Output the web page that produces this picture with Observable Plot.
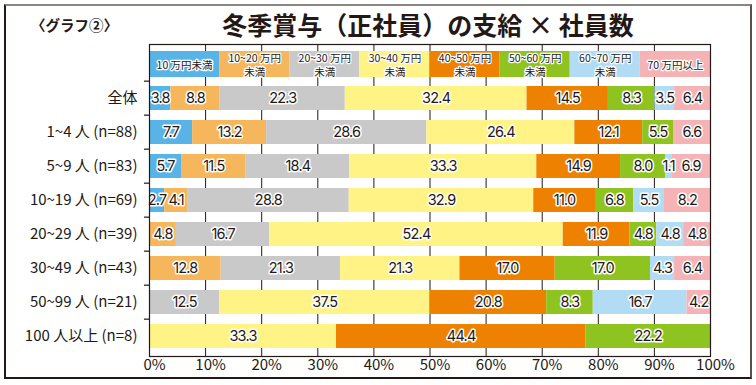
<!DOCTYPE html>
<html>
<head>
<meta charset="utf-8">
<script src="https://cdn.jsdelivr.net/npm/d3@7"></script>
<script src="https://cdn.jsdelivr.net/npm/@observablehq/plot@0.6"></script>
<style>
  body { margin: 0; background: #fff; }
  #wrap { position: relative; width: 756px; height: 385px; overflow: hidden; font-family: "Noto Sans CJK JP", "Noto Sans", sans-serif; }
  #frame { position: absolute; left: 4px; top: 4px; width: 744px; height: 371px;
    border-top: 2px solid #8c8682; border-left: 2px solid #231815; border-right: 2px solid #5a514f; border-bottom: 2px solid #231815; }
  #tag { position: absolute; left: 31px; top: 15px; font-size: 14.5px; font-weight: bold; color: #231815; line-height: 20px; }
  #title { position: absolute; left: 0; width: 856px; text-align: center; top: 8px; font-size: 25px; font-weight: bold; color: #231815; line-height: 32px; }
  #chart { position: absolute; left: 0; top: 0; }
</style>
</head>
<body>
<div id="wrap">
  <div id="frame"></div>
  <div id="tag">〈グラフ②〉</div>
  <div id="title">冬季賞与（正社員）の支給 × 社員数</div>
  <div id="chart"></div>
</div>
<script>
const groups = ["全体", "1~4 人 (n=88)", "5~9 人 (n=83)", "10~19 人 (n=69)", "20~29 人 (n=39)", "30~49 人 (n=43)", "50~99 人 (n=21)", "100 人以上 (n=8)"];
const brackets = ["10万円未満", "10~20万円未満", "20~30万円未満", "30~40万円未満", "40~50万円未満", "50~60万円未満", "60~70万円未満", "70万円以上"];
const legendLabels = ["10 万円未満", "10~20 万円\n未満", "20~30 万円\n未満", "30~40 万円\n未満", "40~50 万円\n未満", "50~60 万円\n未満", "60~70 万円\n未満", "70 万円以上"];
const colors = ["#58b4e6", "#f6b65c", "#c9c9ca", "#fff385", "#ee8100", "#8fc31f", "#b2dcf4", "#f5b3b6"];

const vAll   = [3.8, 8.8, 22.3, 32.4, 14.5, 8.3, 3.5, 6.4];
const v1_4   = [7.7, 13.2, 28.6, 26.4, 12.1, 5.5, 0, 6.6];
const v5_9   = [5.7, 11.5, 18.4, 33.3, 14.9, 8.0, 1.1, 6.9];
const v10_19 = [2.7, 4.1, 28.8, 32.9, 11.0, 6.8, 5.5, 8.2];
const v20_29 = [0, 4.8, 16.7, 52.4, 11.9, 4.8, 4.8, 4.8];
const v30_49 = [0, 12.8, 21.3, 21.3, 17.0, 17.0, 4.3, 6.4];
const v50_99 = [0, 0, 12.5, 37.5, 20.8, 8.3, 16.7, 4.2];
const v100   = [0, 0, 0, 33.3, 44.4, 22.2, 0, 0];
const rows = [vAll, v1_4, v5_9, v10_19, v20_29, v30_49, v50_99, v100];

const xTicks = [0, 0.1, 0.2, 0.3, 0.4, 0.5, 0.6, 0.7, 0.8, 0.9, 1.0];

const data = groups.flatMap((g, gi) => rows[gi].map((v, bi) => ({group: g, bracket: brackets[bi], value: v}))).filter(d => d.value > 0);

const ink = "#231815";
const yDomain = ["legend", ...groups];
const halfStep = (385 - 44 - 29) / 9 / 2;

const chart = Plot.plot({
  width: 756,
  height: 385,
  marginLeft: 149,
  marginRight: 46,
  marginTop: 44,
  marginBottom: 29,
  style: {fontFamily: '"Noto Sans CJK JP", "Noto Sans", sans-serif', background: "transparent", overflow: "visible"},
  x: {domain: [0, 1], axis: null},
  y: {domain: yDomain, paddingInner: 0.3, paddingOuter: 0.15, axis: null},
  color: {domain: brackets, range: colors},
  marks: [
    Plot.ruleX(xTicks, {x: d => d, stroke: ink, strokeWidth: 1}),
    Plot.barX(brackets, {x1: (d, i) => i / 8, x2: (d, i) => (i + 1) / 8, y: () => "legend", fill: d => d, insetTop: -1, insetBottom: -1}),
    Plot.text(brackets, {x: (d, i) => (i + 0.5) / 8, y: () => "legend", text: (d, i) => legendLabels[i], fontSize: 10.5, lineHeight: 1.32, fill: ink, stroke: "white", strokeWidth: 2.5, paintOrder: "stroke"}),
    Plot.barX(data, Plot.stackX({x: "value", y: "group", fill: "bracket", offset: "normalize"})),
    Plot.text(data, Plot.stackX({x: "value", y: "group", z: "bracket", offset: "normalize", text: d => d.value.toFixed(1), fontSize: 14.5, fontFamily: "Inter", fill: ink, stroke: "white", strokeWidth: 3, paintOrder: "stroke"})),
    Plot.frame({stroke: ink, strokeWidth: 1.2}),
    Plot.ruleY(groups, {y: d => d, dy: -halfStep, x1: -0.009, x2: 0, stroke: ink, strokeWidth: 1.2}),
    Plot.text(groups, {y: d => d, frameAnchor: "left", dx: -12, textAnchor: "end", text: d => d, fontSize: 15, fill: ink}),
    Plot.text(xTicks, {x: d => d, frameAnchor: "bottom", dy: 13, dx: 5, text: d => Math.round(d * 100) + "%", fontSize: 15, fill: ink})
  ]
});
const textGroups = chart.querySelectorAll("g[aria-label='text']");
if (textGroups[1]) textGroups[1].setAttribute("letter-spacing", "-0.8px");
document.getElementById("chart").appendChild(chart);
</script>
</body>
</html>
